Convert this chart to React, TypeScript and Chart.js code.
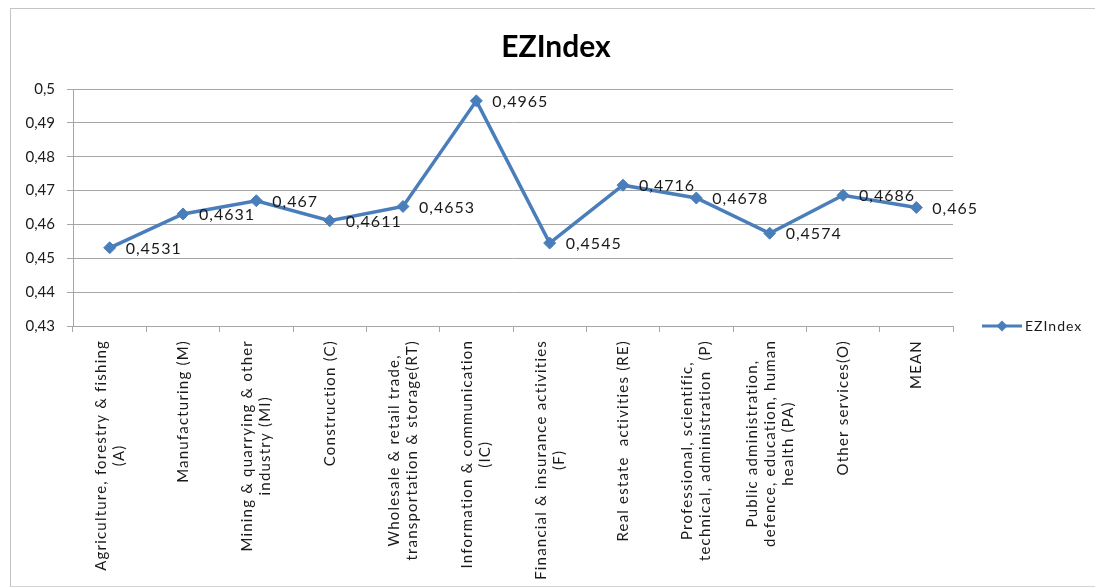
import React, { useEffect, useRef } from "react";
import { Chart, registerables } from "chart.js";

Chart.register(...registerables);

const categories: string[][] = [
  ["Agriculture, forestry & fishing", "(A)"],
  ["Manufacturing (M)"],
  ["Mining & quarrying & other", "industry (MI)"],
  ["Construction (C)"],
  ["Wholesale & retail trade,", "transportation & storage(RT)"],
  ["Information & communication", "(IC)"],
  ["Financial & insurance activities", "(F)"],
  ["Real estate  activities (RE)"],
  ["Professional, scientific,", "technical, administration  (P)"],
  ["Public administration,", "defence, education, human", "health (PA)"],
  ["Other services(O)"],
  ["MEAN"],
];

const seriesName = "EZIndex";
const ezIndex: number[] = [
  0.4531, 0.4631, 0.467, 0.4611, 0.4653, 0.4965, 0.4545, 0.4716, 0.4678,
  0.4574, 0.4686, 0.465,
];

const yMin = 0.43;
const yMax = 0.5;
const yStep = 0.01;

const BLUE = "#4a7ebb";
const GRID = "#a6a6a6";
const FONT = "Lato, 'Liberation Sans', sans-serif";

const fmt = (v: number) => parseFloat(v.toFixed(4)).toString().replace(".", ",");

const customDraw = {
  id: "customDraw",
  afterDraw(chart: any) {
    const ctx = chart.ctx as any;
    const area = chart.chartArea;
    const xs = chart.scales.x;
    ctx.save();

    // title
    ctx.fillStyle = "#000";
    ctx.font = `bold 30px ${FONT}`;
    ctx.textAlign = "center";
    ctx.textBaseline = "middle";
    ctx.fillText(seriesName, chart.width / 2 + 3, 38);

    // data labels
    const meta = chart.getDatasetMeta(0);
    ctx.font = `16px ${FONT}`;
    ctx.letterSpacing = "1px";
    ctx.textAlign = "left";
    ctx.fillStyle = "#1a1a1a";
    meta.data.forEach((pt: any, i: number) => {
      ctx.fillText(fmt(ezIndex[i]), pt.x + 16, pt.y + 1);
    });

    // x labels
    ctx.font = `15px ${FONT}`;
    ctx.letterSpacing = "1.2px";
    ctx.fillStyle = "#1a1a1a";
    const lineH = 18;
    const top = area.bottom + 14;
    categories.forEach((lines, i) => {
      const x = xs.getPixelForValue(i);
      const maxW = Math.max(...lines.map((l) => ctx.measureText(l).width));
      const n = lines.length;
      lines.forEach((line, j) => {
        const lx = x + (j - (n - 1) / 2) * lineH;
        ctx.save();
        ctx.translate(lx, top + maxW / 2);
        ctx.rotate(-Math.PI / 2);
        ctx.textAlign = "center";
        ctx.textBaseline = "middle";
        ctx.fillText(line, 0, 0);
        ctx.restore();
      });
    });

    // legend
    const ly = area.bottom;
    const lx0 = area.right + 29;
    ctx.strokeStyle = BLUE;
    ctx.lineWidth = 3;
    ctx.beginPath();
    ctx.moveTo(lx0, ly);
    ctx.lineTo(lx0 + 40, ly);
    ctx.stroke();
    ctx.fillStyle = BLUE;
    ctx.beginPath();
    const cx = lx0 + 20;
    const r = 5.5;
    ctx.moveTo(cx, ly - r);
    ctx.lineTo(cx + r, ly);
    ctx.lineTo(cx, ly + r);
    ctx.lineTo(cx - r, ly);
    ctx.closePath();
    ctx.fill();
    ctx.fillStyle = "#1a1a1a";
    ctx.font = `14px ${FONT}`;
    ctx.letterSpacing = "1px";
    ctx.textAlign = "left";
    ctx.textBaseline = "middle";
    ctx.fillText(seriesName, lx0 + 43, ly);
    ctx.letterSpacing = "0px";

    ctx.restore();
  },
};

export default function App() {
  const ref = useRef<HTMLCanvasElement | null>(null);

  useEffect(() => {
    document.documentElement.style.overflow = "hidden";
    document.body.style.margin = "0";
    document.body.style.overflow = "hidden";
    if (!ref.current) return;
    const chart = new Chart(ref.current, {
      type: "line",
      data: {
        labels: categories,
        datasets: [
          {
            label: seriesName,
            data: ezIndex,
            borderColor: BLUE,
            backgroundColor: BLUE,
            borderWidth: 3.5,
            pointStyle: "rectRot",
            pointRadius: 6,
            pointBorderWidth: 1,
            pointBackgroundColor: BLUE,
            pointBorderColor: BLUE,
            tension: 0,
          },
        ],
      },
      options: {
        responsive: false,
        animation: false,
        layout: { padding: { top: 80, right: 142, bottom: 254, left: 0 } },
        plugins: {
          legend: { display: false },
          title: { display: false },
          tooltip: { enabled: false },
        },
        scales: {
          x: {
            type: "category",
            offset: true,
            grid: {
              offset: true,
              drawOnChartArea: false,
              drawTicks: true,
              tickLength: 6,
              color: GRID,
            },
            border: { color: GRID, width: 1 },
            ticks: { display: false },
          },
          y: {
            min: yMin,
            max: yMax,
            grid: { color: GRID, tickLength: 6, lineWidth: 1 },
            border: { color: GRID, width: 1 },
            afterFit: (scale: any) => {
              scale.width = 62;
            },
            ticks: {
              stepSize: yStep,
              padding: 12,
              color: "#1a1a1a",
              font: { family: FONT, size: 15 },
              callback: (v: any) => fmt(Number(v)),
            },
          },
        },
      },
      plugins: [customDraw],
    });
    return () => chart.destroy();
  }, []);

  return (
    <div
      style={{
        position: "fixed",
        left: 10,
        top: 8,
        width: 1085,
        height: 577,
        borderTop: "1px solid #c4c4c4",
        borderLeft: "1px solid #c4c4c4",
        borderBottom: "1px solid #d4d4d4",
        background: "#fff",
        overflow: "hidden",
      }}
    >
      <canvas ref={ref} width={1084} height={577} style={{ display: "block" }} />
    </div>
  );
}
